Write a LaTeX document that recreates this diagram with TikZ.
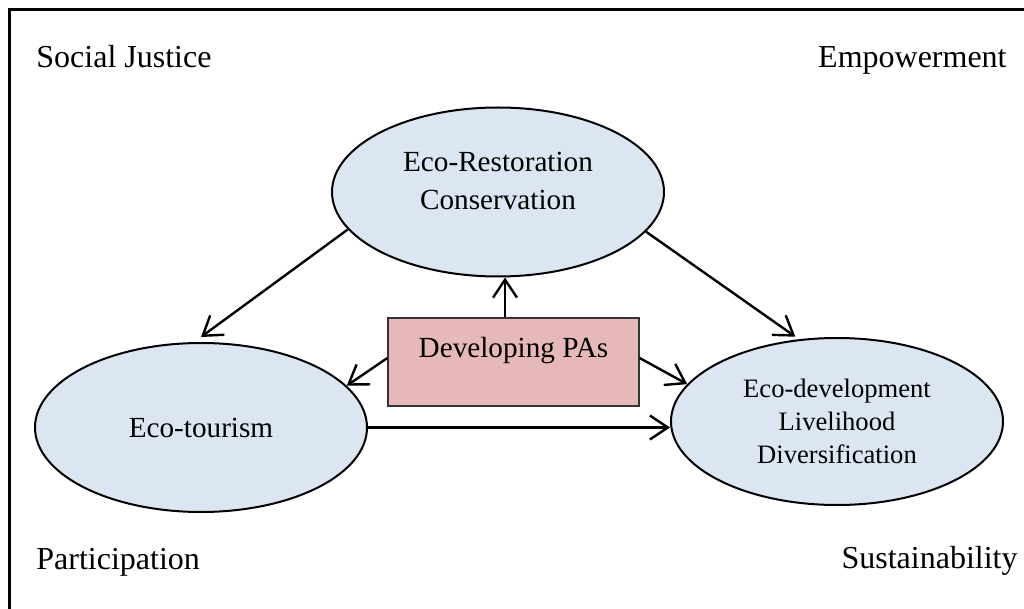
\documentclass[tikz,border=0pt]{standalone}
\usepackage{fontspec}
\setmainfont{Liberation Serif}
\usetikzlibrary{shapes.geometric, arrows.meta, positioning}
\definecolor{ecoblue}{HTML}{DCE6F2}
\definecolor{parose}{HTML}{E6B8B7}

\begin{document}
\begin{tikzpicture}[
    x=0.5pt, y=-0.5pt,
    eco/.style={draw, line width=1pt, fill=ecoblue, ellipse, minimum width=166pt,
                minimum height=84.5pt, inner sep=0pt, align=center,
                font=\fontsize{14.6}{19}\selectfont},
    pabox/.style={draw=black!80, line width=0.6pt, fill=parose, minimum width=125.5pt,
                minimum height=44pt, inner sep=0pt, text depth=15pt,
                font=\fontsize{14.6}{18}\selectfont},
    corner/.style={inner sep=0pt, font=\fontsize{16}{19}\selectfont},
    conn/.style={line width=1.2pt, -{Straight Barb[length=9pt, width=12pt]}}
]
\useasboundingbox (0,0) rectangle (1024,609);
\draw[line width=1.1pt] (9.5,609) -- (9.5,9.5) -- (1024,9.5);

% the four principles in the corners
\node[corner, anchor=base west] (justice) at (36,68) {Social Justice};
\node[corner, anchor=base east] (empower) at (1007,68) {Empowerment};
\node[corner, anchor=base west] (particip) at (36,569) {Participation};
\node[corner, anchor=base east] (sustain) at (1018,568) {Sustainability};

\node[eco] (restore) at (498,192) {Eco-Restoration\\Conservation\rule[-11pt]{0pt}{11pt}};
\node[eco] (tourism) at (201,427.5) {Eco-tourism};
\node[eco, minimum height=83.5pt, font=\fontsize{13.3}{16.5}\selectfont] (devel) at (837,421.5)
    {Eco-development\\Livelihood\\Diversification};
\node[pabox] (pas) at (513.5,362) {Developing PAs};

\draw[conn] ([xshift=-4.25pt]pas.north) -- ([xshift=3.5pt]restore.south);
\draw[conn] ([yshift=2pt]pas.west) -- (tourism.16);
\draw[conn] ([yshift=2pt]pas.east) -- (devel.166);
\draw[conn] (restore.194) -- ([yshift=2.5pt]tourism.north);
\draw[conn] (restore.345) -- ([yshift=1.5pt]devel.117);
\draw[conn] (tourism.east) -- (tourism.east -| devel.west);
\end{tikzpicture}
\end{document}
